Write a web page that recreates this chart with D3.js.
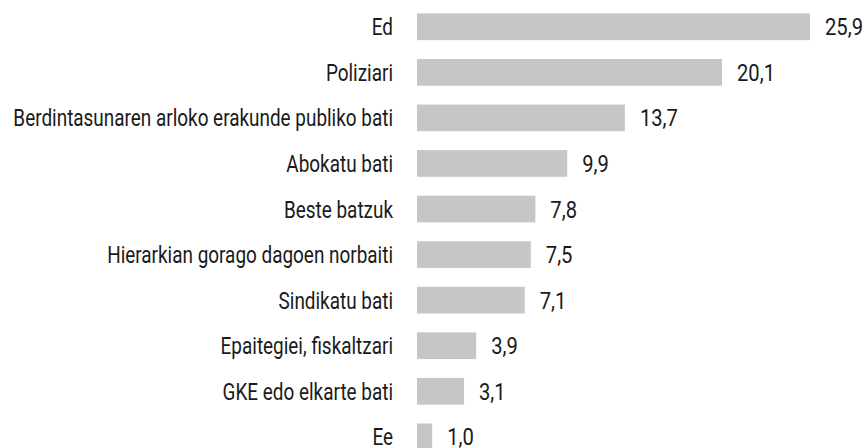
<!DOCTYPE html>
<html>
<head>
<meta charset="utf-8">
<script src="https://cdn.jsdelivr.net/npm/d3@7"></script>
<style>
  html, body { margin: 0; padding: 0; background: #fff; }
  svg { display: block; }
  text { font-family: "Roboto", "Liberation Sans", sans-serif; fill: #1a1a1a; font-weight: 400; }
</style>
</head>
<body>
<svg id="chart" width="867" height="448"></svg>
<script>
// Categories, top to bottom
const categories = [
  "Ed",
  "Poliziari",
  "Berdintasunaren arloko erakunde publiko bati",
  "Abokatu bati",
  "Beste batzuk",
  "Hierarkian gorago dagoen norbaiti",
  "Sindikatu bati",
  "Epaitegiei, fiskaltzari",
  "GKE edo elkarte bati",
  "Ee"
];
// Percentages
const values = [25.9, 20.1, 13.7, 9.9, 7.8, 7.5, 7.1, 3.9, 3.1, 1.0];

const data = categories.map((c, i) => ({ cat: c, val: values[i] }));

const svg = d3.select("#chart");
const barLeft = 417;
const labelRight = 393;
const fontSize = 23;
const longestWidth = 380; // width the longest category label should occupy
const widestValueWidth = 38; // width of the "25,9" label

const x = d3.scaleLinear().domain([0, 25.9]).range([0, 393]);
const y = d3.scaleBand()
  .domain(categories)
  .range([4, 459.6])
  .paddingInner(0.414)
  .paddingOuter(0.207);

const fmt = v => d3.format(".1f")(v).replace(".", ",");

// Condensed look: measure sample text and squeeze it horizontally
function measure(str) {
  const t = svg.append("text").attr("font-size", fontSize).text(str);
  const w = t.node().getComputedTextLength();
  t.remove();
  return w;
}
const kCat = longestWidth / measure(d3.greatest(categories, c => c.length));
const kVal = widestValueWidth / measure(fmt(d3.max(values)));

const row = svg.selectAll("g.row")
  .data(data)
  .join("g")
  .attr("class", "row")
  .attr("transform", d => `translate(0,${y(d.cat)})`);

row.append("rect")
  .attr("x", barLeft)
  .attr("y", 0)
  .attr("width", d => x(d.val))
  .attr("height", y.bandwidth())
  .attr("fill", "#c6c6c6");

const baseline = y.bandwidth() / 2 + 8.5;

row.append("text")
  .attr("transform", `translate(${labelRight},${baseline}) scale(${kCat},1)`)
  .attr("text-anchor", "end")
  .attr("font-size", fontSize)
  .text(d => d.cat);

row.append("text")
  .attr("transform", d => `translate(${barLeft + x(d.val) + 15},${baseline}) scale(${kVal},1)`)
  .attr("font-size", fontSize)
  .text(d => fmt(d.val));
</script>
</body>
</html>
